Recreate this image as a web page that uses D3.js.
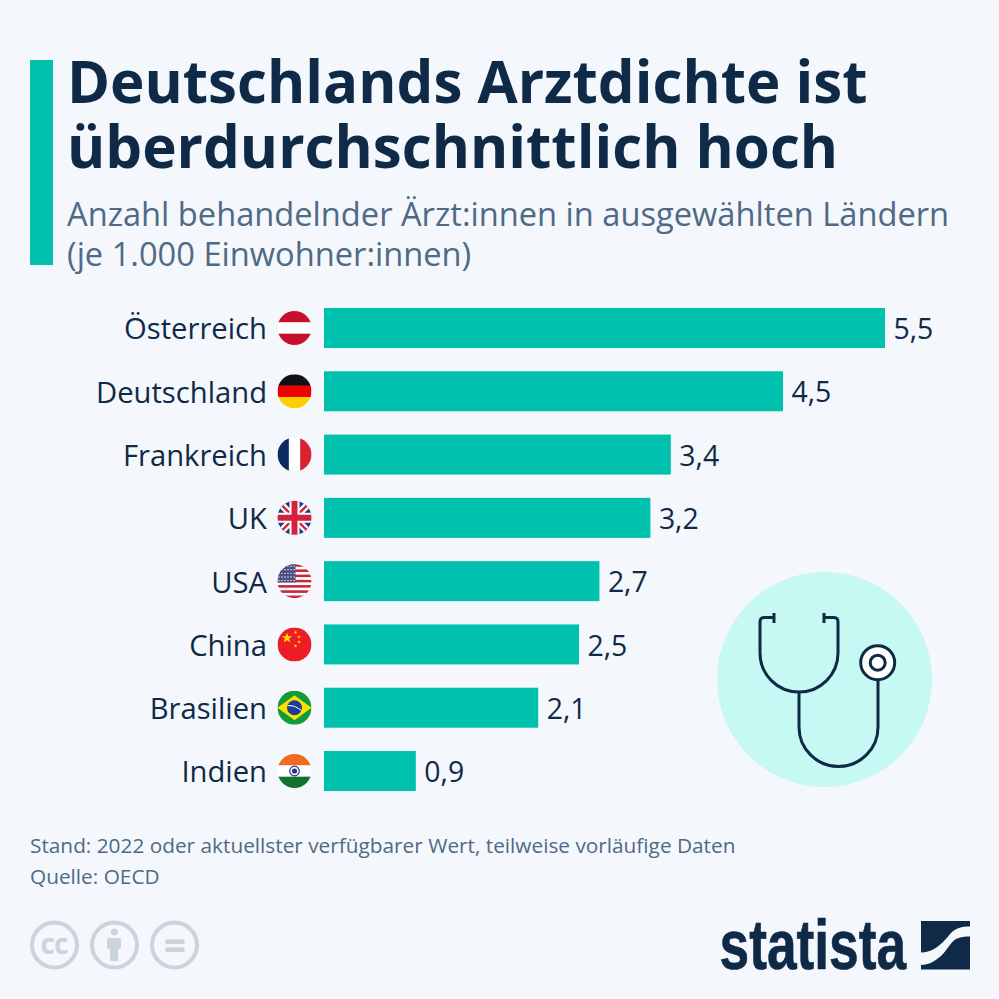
<!DOCTYPE html>
<meta charset="utf-8">
<style>
  html, body { margin: 0; padding: 0; background: #f4f7fb; }
  svg { display: block; }
  text { font-family: "Open Sans", sans-serif; }
</style>
<script src="https://d3js.org/d3.v7.min.js"></script>
<div id="chart"></div>
<script>
// data
var countries = ["Österreich", "Deutschland", "Frankreich", "UK", "USA", "China", "Brasilien", "Indien"];
var values = [5.5, 4.5, 3.4, 3.2, 2.7, 2.5, 2.1, 0.9];
var flagCodes = ["at", "de", "fr", "uk", "us", "cn", "br", "in"];
var titleLines = ["Deutschlands Arztdichte ist", "überdurchschnittlich hoch"];
var subtitleLines = ["Anzahl behandelnder Ärzt:innen in ausgewählten Ländern", "(je 1.000 Einwohner:innen)"];
var footLines = ["Stand: 2022 oder aktuellster verfügbarer Wert, teilweise vorläufige Daten", "Quelle: OECD"];

var navy = "#0f2a47", teal = "#00c1ae", slate = "#4f6a85", grey = "#c9d4dc";

var svg = d3.select("#chart").append("svg")
  .attr("width", 999).attr("height", 999);

svg.append("rect").attr("width", 999).attr("height", 999).attr("fill", "#f4f7fb");

// header
svg.append("rect").attr("x", 30).attr("y", 60).attr("width", 23).attr("height", 205).attr("fill", teal);

svg.selectAll(".title").data(titleLines).enter().append("text")
  .attr("class", "title")
  .attr("x", 67)
  .attr("y", function (d, i) { return 103 + i * 65; })
  .attr("font-size", 58.25).attr("font-weight", 700)
  .attr("fill", navy)
  .text(function (d) { return d; });

svg.selectAll(".subtitle").data(subtitleLines).enter().append("text")
  .attr("class", "subtitle")
  .attr("x", 67)
  .attr("y", function (d, i) { return 225.5 + i * 40; })
  .attr("font-size", 32.65)
  .attr("fill", slate)
  .text(function (d) { return d; });

// scales
var x = d3.scaleLinear().domain([0, 5.5]).range([324, 885]);
var y = d3.scaleBand().domain(countries).range([308, 791]).paddingInner(0.368).paddingOuter(0);

// bars
svg.selectAll(".bar").data(values).enter().append("rect")
  .attr("class", "bar")
  .attr("x", x(0))
  .attr("y", function (d, i) { return y(countries[i]); })
  .attr("width", function (d) { return x(d) - x(0); })
  .attr("height", y.bandwidth())
  .attr("fill", teal);

// value labels
var fmt = function (d) { return d.toFixed(1).replace(".", ","); };
svg.selectAll(".val").data(values).enter().append("text")
  .attr("class", "val")
  .attr("x", function (d) { return x(d) + 8.5; })
  .attr("y", function (d, i) { return y(countries[i]) + y.bandwidth() / 2; })
  .attr("dy", "0.39em")
  .attr("font-size", 28.4)
  .attr("fill", navy)
  .text(fmt);

// country labels
svg.selectAll(".country").data(countries).enter().append("text")
  .attr("class", "country")
  .attr("x", 267)
  .attr("y", function (d) { return y(d) + y.bandwidth() / 2; })
  .attr("dy", "0.39em")
  .attr("text-anchor", "end")
  .attr("font-size", 29.2)
  .attr("fill", navy)
  .text(function (d) { return d; });

// flags, drawn in a 34x34 box centred on 0,0
var defs = svg.append("defs");
defs.append("clipPath").attr("id", "flagClip").append("circle").attr("r", 17);

function stripesH(g, cols) {
  var h = 34 / cols.length;
  cols.forEach(function (c, i) {
    g.append("rect").attr("x", -17).attr("y", -17 + i * h).attr("width", 34).attr("height", h + 0.3).attr("fill", c);
  });
}
function star(g, cx, cy, r, col) {
  var pts = d3.range(10).map(function (i) {
    var a = -Math.PI / 2 + i * Math.PI / 5, q = i % 2 ? r * 0.4 : r;
    return [cx + q * Math.cos(a), cy + q * Math.sin(a)];
  });
  g.append("polygon").attr("points", pts.join(" ")).attr("fill", col);
}
var flags = {
  at: function (g) { stripesH(g, ["#c8102e", "#ffffff", "#c8102e"]); },
  de: function (g) { stripesH(g, ["#111111", "#ee0000", "#ffce00"]); },
  fr: function (g) {
    ["#0f2a5e", "#ffffff", "#d8232e"].forEach(function (c, i) {
      g.append("rect").attr("x", -17 + i * 11.33).attr("y", -17).attr("width", 11.6).attr("height", 34).attr("fill", c);
    });
  },
  uk: function (g) {
    g.append("rect").attr("x", -17).attr("y", -17).attr("width", 34).attr("height", 34).attr("fill", "#1d3a7d");
    g.append("path").attr("d", "M-17,-17L17,17M17,-17L-17,17").attr("stroke", "#fff").attr("stroke-width", 7);
    g.append("path").attr("d", "M-17,-17L17,17M17,-17L-17,17").attr("stroke", "#d4213d").attr("stroke-width", 2.4);
    g.append("path").attr("d", "M0,-17V17M-17,0H17").attr("stroke", "#fff").attr("stroke-width", 10);
    g.append("path").attr("d", "M0,-17V17M-17,0H17").attr("stroke", "#d4213d").attr("stroke-width", 6);
  },
  us: function (g) {
    var cols = d3.range(13).map(function (i) { return i % 2 ? "#ffffff" : "#c8283e"; });
    stripesH(g, cols);
    g.append("rect").attr("x", -17).attr("y", -17).attr("width", 18).attr("height", 18.3).attr("fill", "#4a4f82");
    d3.range(5).forEach(function (r) {
      d3.range(6).forEach(function (c) {
        g.append("circle").attr("cx", -15.5 + c * 3).attr("cy", -15 + r * 3.6).attr("r", 0.7).attr("fill", "#fff");
      });
    });
  },
  cn: function (g) {
    g.append("rect").attr("x", -17).attr("y", -17).attr("width", 34).attr("height", 34).attr("fill", "#ee1c25");
    star(g, -7.5, -6.5, 5.5, "#ffde00");
    star(g, 1, -12, 1.9, "#ffde00");
    star(g, 4.5, -7.5, 1.9, "#ffde00");
    star(g, 4.5, -2.5, 1.9, "#ffde00");
    star(g, 1, 1.5, 1.9, "#ffde00");
  },
  br: function (g) {
    g.append("rect").attr("x", -17).attr("y", -17).attr("width", 34).attr("height", 34).attr("fill", "#129a3a");
    g.append("polygon").attr("points", "-17,0 0,-12.5 17,0 0,12.5").attr("fill", "#fedf00");
    g.append("circle").attr("r", 7.5).attr("fill", "#1c3f94");
    g.append("path").attr("d", "M-7,-2Q0,-3 7,3").attr("stroke", "#fff").attr("stroke-width", 1).attr("fill", "none");
  },
  in: function (g) {
    stripesH(g, ["#f26a21", "#ffffff", "#10722d"]);
    g.append("circle").attr("r", 4.8).attr("fill", "none").attr("stroke", "#27357f").attr("stroke-width", 1.2);
    g.append("circle").attr("r", 2.6).attr("fill", "#27357f");
  }
};
flagCodes.forEach(function (code, i) {
  var g = svg.append("g")
    .attr("transform", "translate(294.5," + (y(countries[i]) + y.bandwidth() / 2) + ")")
    .append("g").attr("clip-path", "url(#flagClip)");
  flags[code](g);
});

// stethoscope illustration
var ill = svg.append("g").attr("transform", "translate(710,565)");
ill.append("circle").attr("cx", 114.5).attr("cy", 114.5).attr("r", 107.5).attr("fill", "#c6f8f4");
ill.append("g").attr("fill", "none").attr("stroke", navy).attr("stroke-width", 3)
  .selectAll("path")
  .data([
    "M114,48V58M114,52.5H124Q128,52.5 128,57V88A39,39 0 0 1 50,88V57Q50,52.5 54,52.5H64M64,48V58",
    "M89,127V162A39.5,39.5 0 0 0 168,162V114"
  ])
  .enter().append("path").attr("d", function (d) { return d; });
ill.append("circle").attr("cx", 167.7).attr("cy", 97.7).attr("r", 17).attr("fill", "#fff").attr("stroke", navy).attr("stroke-width", 3);
ill.append("circle").attr("cx", 167.7).attr("cy", 97.7).attr("r", 7.5).attr("fill", "none").attr("stroke", navy).attr("stroke-width", 3);

// footer
svg.selectAll(".foot").data(footLines).enter().append("text")
  .attr("class", "foot")
  .attr("x", 30)
  .attr("y", function (d, i) { return 853 + i * 31; })
  .attr("font-size", 20.8)
  .attr("fill", slate)
  .text(function (d) { return d; });

// licence icons
var cc = svg.append("g");
[54.5, 114.5, 174.5].forEach(function (cx) {
  cc.append("circle").attr("cx", cx).attr("cy", 945).attr("r", 22.5)
    .attr("fill", "none").attr("stroke", grey).attr("stroke-width", 4);
});
cc.append("text").attr("x", 54).attr("y", 954).attr("text-anchor", "middle")
  .attr("font-size", 28).attr("font-weight", 700).attr("letter-spacing", -1).attr("fill", grey).text("cc");
cc.append("circle").attr("cx", 114.3).attr("cy", 932).attr("r", 3.5).attr("fill", grey);
cc.append("rect").attr("x", 107).attr("y", 938).attr("width", 14).attr("height", 11).attr("rx", 2).attr("fill", grey);
cc.append("rect").attr("x", 110).attr("y", 947).attr("width", 8).attr("height", 14).attr("fill", grey);
cc.append("rect").attr("x", 165.5).attr("y", 939.5).attr("width", 19).attr("height", 4.5).attr("fill", grey);
cc.append("rect").attr("x", 165.5).attr("y", 947.5).attr("width", 19).attr("height", 4.5).attr("fill", grey);

// statista logo
svg.append("text")
  .attr("transform", "translate(719.5,969) scale(0.86,1.12)")
  .attr("font-size", 62).attr("font-weight", 700)
  .attr("fill", navy).attr("stroke", navy).attr("stroke-width", 0.6)
  .style("font-family", "'Liberation Sans Narrow','Liberation Sans',sans-serif")
  .text("statista");
var logo = svg.append("g").attr("transform", "translate(921,921)");
logo.append("path").attr("fill", navy)
  .attr("d", "M0,0H49V5.5C40,5.5 35,7 30,12C24,19 20,24 13,28C9,30 5,31.5 0,31.5Z");
logo.append("path").attr("fill", navy)
  .attr("d", "M49,15.5V48.5H0V44C8,44 14,40 20,35C27,28 29,22 35,18C39,16 44,15.5 49,15.5Z");
</script>
